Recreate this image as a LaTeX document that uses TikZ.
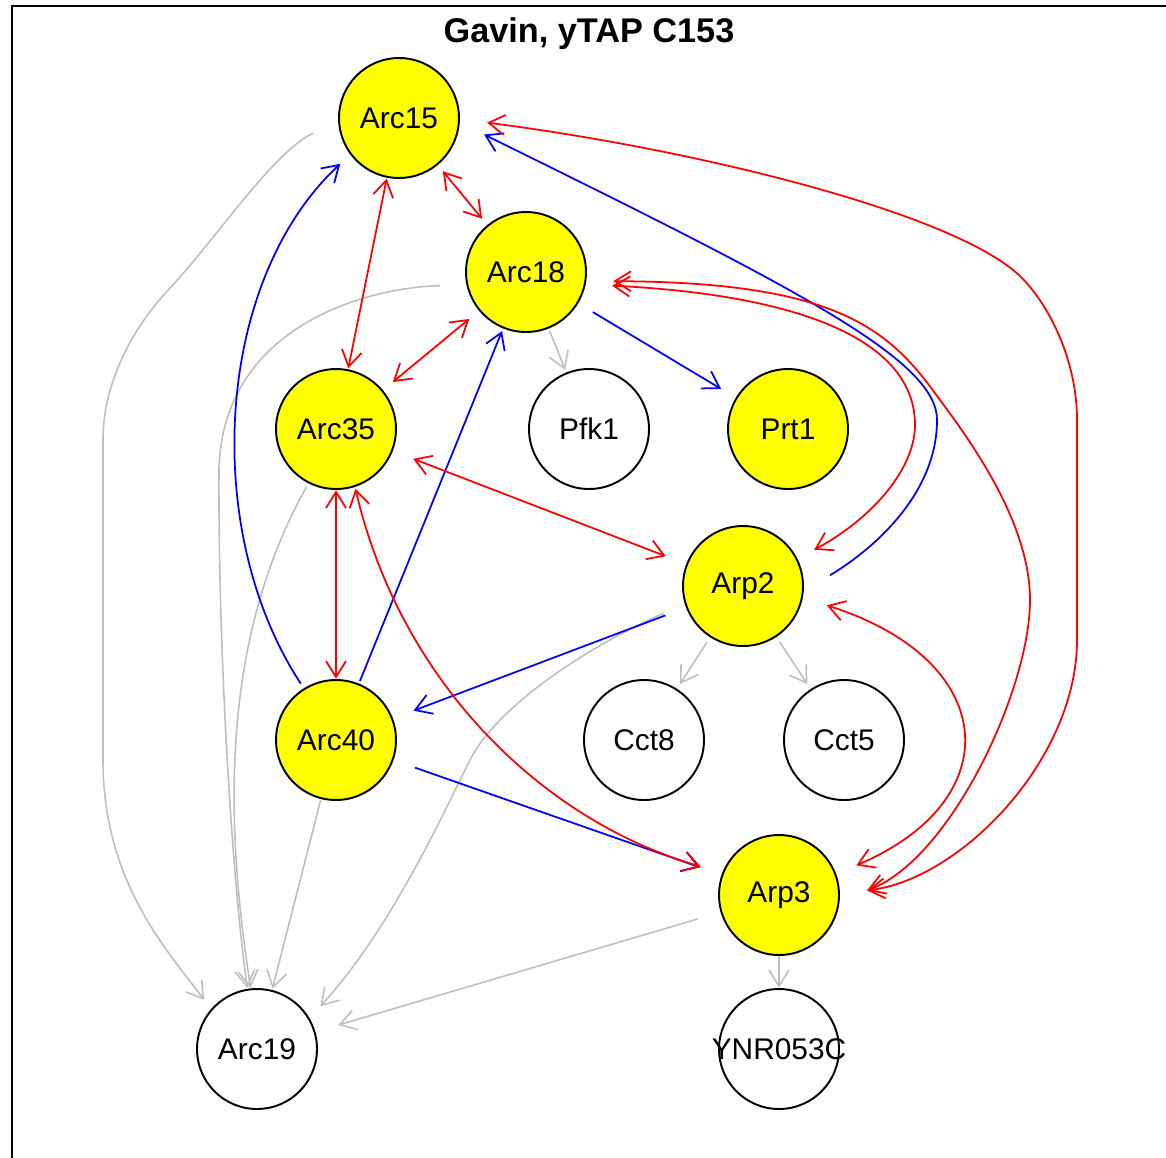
\documentclass[tikz,border=0pt]{standalone}
\usepackage{fontspec}
\setmainfont{Liberation Sans}
\usetikzlibrary{shapes.geometric,arrows.meta}
\definecolor{edgegray}{RGB}{190,190,190}
\definecolor{baityellow}{RGB}{255,255,0}

\begin{document}
\begin{tikzpicture}[x=0.02cm, y=-0.02cm,
        >={Straight Barb[length=0.32cm, width=0.4cm]},
        vertex/.style={ellipse, minimum width=3.52cm, minimum height=2.44cm, inner sep=0pt,
            font=\fontsize{17}{20}\selectfont,
            path picture={\draw[line width=1.1pt, fill=#1] (path picture bounding box.center) circle [radius=1.2cm];}},
        bait/.style={vertex=baityellow},
        prey/.style={vertex=white},
        redge/.style={red, line width=1pt, <->},
        bedge/.style={blue, line width=1pt, ->},
        gedge/.style={edgegray, line width=0.9pt, ->}]
            \useasboundingbox (0,0) rectangle (1166,1157);
            \draw[line width=1.3pt] (12,1170) -- (12,6) -- (1180,6);

            \node (title) [font=\bfseries\fontsize{19.5}{23}\selectfont] at (589,34) {Gavin, yTAP C153};
            \node (arc15) [bait] at (399,118) {Arc15};
            \node (arc18) [bait] at (526,272) {Arc18};
            \node (arc35) [bait] at (336,429) {Arc35};
            \node (pfk1) [prey] at (589,429) {Pfk1};
            \node (prt1) [bait] at (788,429) {Prt1};
            \node (arp2) [bait] at (743,586) {Arp2};
            \node (arc40) [bait] at (336,740) {Arc40};
            \node (cct8) [prey] at (644,740) {Cct8};
            \node (cct5) [prey] at (844,740) {Cct5};
            \node (arp3) [bait] at (779,895) {Arp3};
            \node (arc19) [prey] at (257,1049) {Arc19};
            \node (ynr053c) [prey] at (779,1049) {YNR053C};

            \draw[gedge] (arc15.190) .. controls (275,150) and (215,240) .. (170,288)
                .. controls (135,325) and (103,380) .. (103,440) -- (103,760)
                .. controls (103,880) and (165,948) .. (arc19.137);
            \draw[gedge] (arc18.189) .. controls (360,288) and (222,330) .. (219,470)
                .. controls (218,650) and (232,880) .. (arc19.99);
            \draw[gedge] (arc35.243) .. controls (215,650) and (228,840) .. (arc19.96);
            \draw[gedge] (arc40) -- (arc19);
            \draw[gedge] (arp2.199) .. controls (590,645) and (497,706) .. (470,760)
                .. controls (440,820) and (390,930) .. (arc19.34);
            \draw[gedge] (arp3) -- (arc19);
            \draw[gedge] (arc18) -- (pfk1);
            \draw[gedge] (arp2) -- (cct8);
            \draw[gedge] (arp2) -- (cct5);
            \draw[gedge] (arp3) -- (ynr053c);

            \draw[bedge] (arc40.122) .. controls (200,530) and (215,280) .. (arc15.218);
            \draw[bedge] (arc40) -- (arc18);
            \draw[bedge] (arp2.7) .. controls (880,545) and (937,490) .. (937,420)
                .. controls (937,360) and (800,290) .. (arc15.-11);
            \draw[bedge] (arc18) -- (prt1);
            \draw[bedge] (arp2) -- (arc40);
            \draw[bedge] (arc40) -- (arp3);

            \draw[redge] (arc15) -- (arc18);
            \draw[redge] (arc15) -- (arc35);
            \draw[redge] (arc18) -- (arc35);
            \draw[redge] (arc35) -- (arc40);
            \draw[redge] (arc35) -- (arp2);
            \draw[redge] (arc35.-72) .. controls (400,680) and (540,820) .. (arp3.160);
            \draw[redge] (arc15.-3) .. controls (700,150) and (957,214) .. (1021,277)
                .. controls (1049,305) and (1077,360) .. (1077,420) -- (1077,640)
                .. controls (1077,760) and (960,880) .. (arp3.3);
            \draw[redge] (arc18.-6) .. controls (840,282) and (890,330) .. (940,400)
                .. controls (982,456) and (1030,530) .. (1030,600)
                .. controls (1030,690) and (950,860) .. (arp3.3);
            \draw[redge] (arc18.-9) .. controls (800,295) and (915,340) .. (915,425)
                .. controls (915,470) and (870,520) .. (arp2.27);
            \draw[redge] (arp2.-13) .. controls (1000,660) and (1010,800) .. (arp3.21);
        \end{tikzpicture}
\end{document}
